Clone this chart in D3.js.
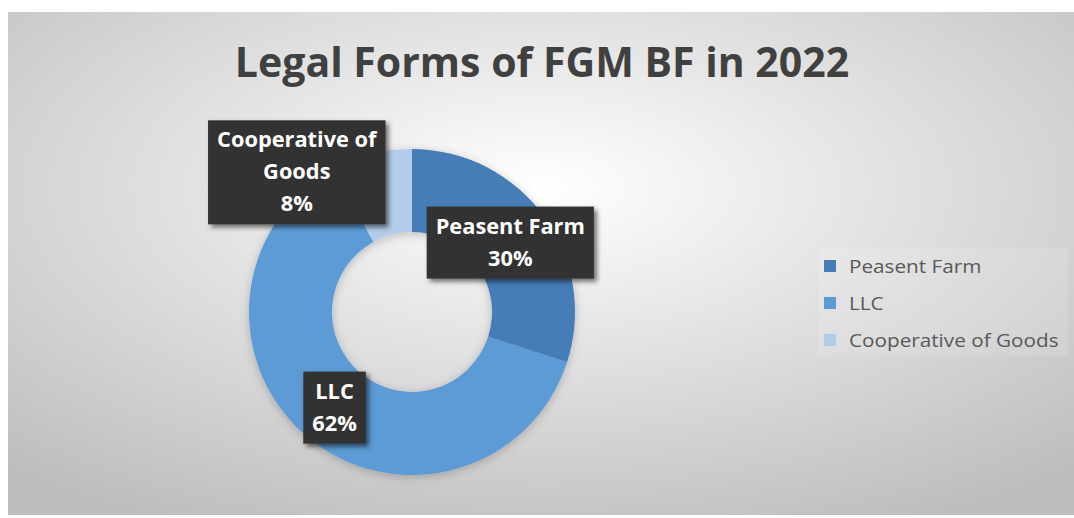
<!DOCTYPE html>
<html>
<head>
<meta charset="utf-8">
<script src="https://cdn.jsdelivr.net/npm/d3@7"></script>
<style>
  body { margin: 0; background: #fff; }
  svg { display: block; }
</style>
</head>
<body>
<div id="chart"></div>
<script>
// chart data
var categories = ["Peasent Farm", "LLC", "Cooperative of Goods"];
var shares = [30, 62, 8];
var labelLines = [["Peasent Farm"], ["LLC"], ["Cooperative of", "Goods"]];
var colors = ["#467db6", "#5b9bd5", "#b2cdea"];
var title = "Legal Forms of FGM BF in 2022";

var W = 1074, H = 518;

var svg = d3.select("#chart").append("svg").attr("width", W).attr("height", H);
var defs = svg.append("defs");

// background gradient
var grad = defs.append("radialGradient").attr("id", "bg")
  .attr("cx", "50%").attr("cy", "35%").attr("r", "75%");
grad.append("stop").attr("offset", "0%").attr("stop-color", "#ffffff");
grad.append("stop").attr("offset", "100%").attr("stop-color", "#bdbdbd");

// shadow filters
var f = defs.append("filter").attr("id", "boxShadow").attr("x", "-20%").attr("y", "-20%").attr("width", "150%").attr("height", "150%");
f.append("feDropShadow").attr("dx", 3).attr("dy", 3).attr("stdDeviation", 2.5)
  .attr("flood-color", "#000").attr("flood-opacity", 0.55);
var f2 = defs.append("filter").attr("id", "ringShadow").attr("x", "-20%").attr("y", "-20%").attr("width", "140%").attr("height", "140%");
f2.append("feDropShadow").attr("dx", 0).attr("dy", 2).attr("stdDeviation", 5)
  .attr("flood-color", "#000").attr("flood-opacity", 0.22);

// chart area
svg.append("rect").attr("x", 8).attr("y", 12).attr("width", W - 8).attr("height", 503)
  .attr("fill", "url(#bg)");

// stretch/squeeze a text element horizontally (Calibri-like proportions)
function squeeze(sel, k) {
  sel.each(function () {
    var w = this.getComputedTextLength();
    d3.select(this).attr("textLength", w * k).attr("lengthAdjust", "spacingAndGlyphs");
  });
}

// title
svg.append("text").attr("x", 542).attr("y", 77).attr("text-anchor", "middle")
  .attr("font-family", "Open Sans").attr("font-weight", "bold").attr("font-size", 41)
  .attr("fill", "#404040").text(title)
  .call(squeeze, 1.0);

// donut
var cx = 412, cy = 312, rOuter = 163, rInner = 80;
var pie = d3.pie().sort(null).value(function (d) { return d; });
var arcs = pie(shares);
var arc = d3.arc().innerRadius(rInner).outerRadius(rOuter);
var midArc = d3.arc().innerRadius((rInner + rOuter) / 2).outerRadius((rInner + rOuter) / 2);

var g = svg.append("g").attr("transform", "translate(" + cx + "," + cy + ")");
g.append("g").attr("filter", "url(#ringShadow)")
  .selectAll("path").data(arcs).enter().append("path")
  .attr("d", arc)
  .attr("fill", function (d, i) { return colors[i]; });

// data labels (the small slice is pushed out, as best fit does)
var labelShift = [[0, 0], [0, 0], [-85, -24]];
var lineH = 32, pad = 9;
arcs.forEach(function (d, i) {
  var c = midArc.centroid(d);
  var lx = c[0] + labelShift[i][0], ly = c[1] + labelShift[i][1];
  var lines = labelLines[i].concat([shares[i] + "%"]);
  var lg = g.append("g");
  var box = lg.append("rect").attr("fill", "#333333").attr("filter", "url(#boxShadow)");
  var top = ly - lines.length * lineH / 2;
  var texts = lg.selectAll("text").data(lines).enter().append("text")
    .attr("x", lx).attr("y", function (t, j) { return top + j * lineH + 25; })
    .attr("text-anchor", "middle")
    .attr("font-family", "Open Sans").attr("font-weight", "bold").attr("font-size", 22)
    .attr("fill", "#ffffff").text(function (t) { return t; })
    .call(squeeze, 0.99);
  var maxW = d3.max(texts.nodes(), function (n) { return +n.getAttribute("textLength"); });
  box.attr("x", lx - maxW / 2 - pad).attr("y", top - 2)
    .attr("width", maxW + 2 * pad).attr("height", lines.length * lineH + 8);
});

// legend
var legend = svg.append("g").attr("transform", "translate(818,248)");
legend.append("rect").attr("width", 250).attr("height", 108).attr("fill", "#ffffff").attr("opacity", 0.12);
var rows = legend.selectAll("g.row").data(categories).enter().append("g")
  .attr("transform", function (d, i) { return "translate(6," + (18 + i * 37) + ")"; });
rows.append("rect").attr("x", 0).attr("y", -6).attr("width", 12).attr("height", 12)
  .attr("fill", function (d, i) { return colors[i]; });
rows.append("text").attr("x", 25).attr("y", 7)
  .attr("font-family", "Open Sans").attr("font-size", 19).attr("fill", "#595959")
  .text(function (d) { return d; })
  .call(squeeze, 1.09);
</script>
</body>
</html>
